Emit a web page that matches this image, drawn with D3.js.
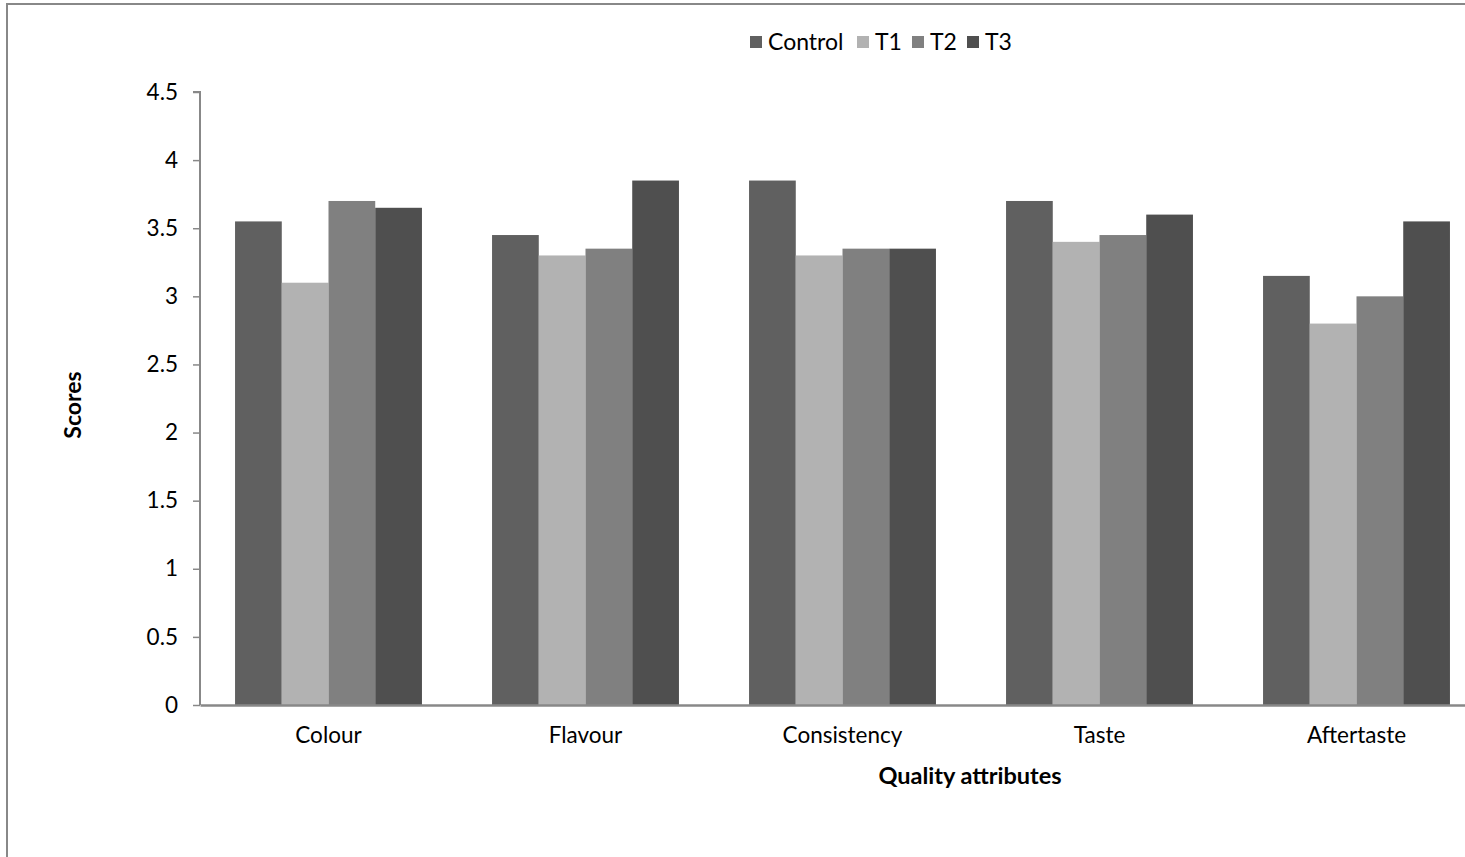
<!DOCTYPE html>
<html><head><meta charset="utf-8">
<script src="https://cdn.jsdelivr.net/npm/d3@7"></script>
<style>body{margin:0;background:#fff}svg{display:block}text{font-family:Lato,"Liberation Sans",sans-serif;fill:#000}</style>
</head><body><svg id="c" width="1465" height="857"></svg>
<script>
const categories = ["Colour","Flavour","Consistency","Taste","Aftertaste"];
const seriesNames = ["Control","T1","T2","T3"];
const control = [3.55,3.45,3.85,3.7,3.15];
const t1 = [3.1,3.3,3.3,3.4,2.8];
const t2 = [3.7,3.35,3.35,3.45,3.0];
const t3 = [3.65,3.85,3.35,3.6,3.55];
const yTicks = [0,0.5,1,1.5,2,2.5,3,3.5,4,4.5];
const colors = ["#606060","#b2b2b2","#808080","#4f4f4f"];
const seriesValues = [control,t1,t2,t3];

(function(){
const svg = d3.select("#c");
svg.append("rect").attr("x",7).attr("y",4).attr("width",1500).attr("height",900)
  .attr("fill","none").attr("stroke","#888").attr("stroke-width",2);

const pl=200, pr=1485, pt=92, pb=705;
const x = d3.scaleBand().domain(categories).range([pl,pr]).padding(0);
const xi = d3.scaleBand().domain(seriesNames).range([0,x.bandwidth()]).paddingInner(0).paddingOuter(0.75);
const y = d3.scaleLinear().domain([0,4.5]).range([pb,pt]);

const g = svg.append("g");
seriesNames.forEach((s,si)=>{
  g.selectAll(null).data(categories).enter().append("rect")
    .attr("x",(c)=>x(c)+xi(s))
    .attr("width",xi.bandwidth())
    .attr("y",(c,i)=>y(seriesValues[si][i]))
    .attr("height",(c,i)=>y(0)-y(seriesValues[si][i]))
    .attr("fill",colors[si]);
});

const ya = svg.append("g").attr("transform",`translate(${pl},0)`)
  .call(d3.axisLeft(y).tickValues(yTicks).tickFormat(d=>String(d)).tickSize(7).tickPadding(15));
ya.select(".domain").attr("stroke","#888").attr("stroke-width",2).attr("d",`M-7,${pt}H0V${pb}`);
ya.selectAll(".tick line").attr("stroke","#888").attr("stroke-width",1.5);
ya.selectAll(".tick text").style("font-size","22.5px").style("font-family","Lato");

const xa = svg.append("g").attr("transform",`translate(0,${pb})`)
  .call(d3.axisBottom(x).tickSize(0).tickPadding(22));
xa.select(".domain").attr("stroke","#888").attr("stroke-width",2.5);
xa.selectAll(".tick text").style("font-size","22.5px").style("font-family","Lato");

svg.append("text").attr("x",970).attr("y",784).attr("text-anchor","middle")
  .style("font-size","23.5px").style("font-weight","bold").text("Quality attributes");
svg.append("text").attr("transform","translate(81,405) rotate(-90)").attr("text-anchor","middle")
  .style("font-size","23px").style("font-weight","bold").text("Scores");

const legX=[750,857,912,967];
const lg = svg.append("g");
seriesNames.forEach((s,i)=>{
  lg.append("rect").attr("x",legX[i]).attr("y",36).attr("width",12).attr("height",12).attr("fill",colors[i]);
  lg.append("text").attr("x",legX[i]+18).attr("y",50).style("font-size","23px").text(s);
});
})();
</script></body></html>
